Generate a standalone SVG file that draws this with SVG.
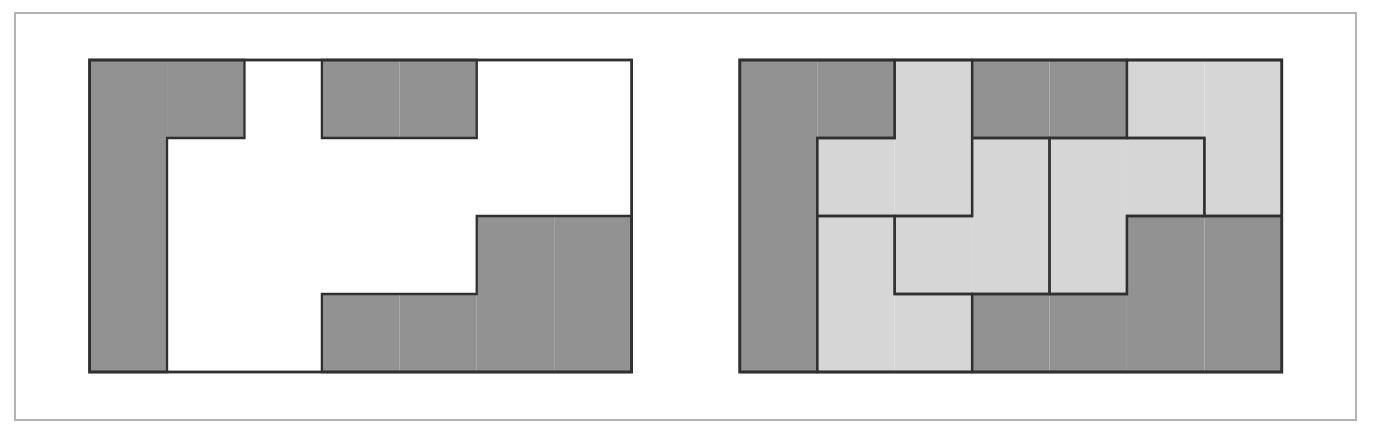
<svg xmlns="http://www.w3.org/2000/svg" width="1378" height="438" viewBox="0 0 1378 438">
<style>
.d{fill:#929292}
.l{fill:#d6d6d6}
.w{fill:#ffffff}
.b{fill:none;stroke:#303030;stroke-width:2.3;stroke-linejoin:miter;stroke-linecap:square}
.o{fill:none;stroke:#303030;stroke-width:2.8}
</style>
<rect x="0" y="0" width="1378" height="438" fill="#ffffff"/>
<rect x="15" y="13" width="1341" height="407" fill="#ffffff" stroke="#b3b3b3" stroke-width="2"/>

<g id="left-grid" transform="translate(89.6,60)">
  <g id="left-piece-1">
    <rect class="d" x="0" y="0" width="77.43" height="78"/>
    <rect class="d" x="77.43" y="0" width="77.43" height="78"/>
    <rect class="d" x="0" y="78" width="77.43" height="78"/>
    <rect class="d" x="0" y="156" width="77.43" height="78"/>
    <rect class="d" x="0" y="234" width="77.43" height="78"/>
    <path class="b" d="M0,0 H154.86 V78 H77.43 V312 H0 Z"/>
  </g>
  <g id="left-piece-2">
    <rect class="d" x="232.29" y="0" width="77.42" height="78"/>
    <rect class="d" x="309.71" y="0" width="77.43" height="78"/>
    <path class="b" d="M232.29,0 H387.14 V78 H232.29 Z"/>
  </g>
  <g id="left-piece-3">
    <rect class="d" x="387.14" y="156" width="77.43" height="78"/>
    <rect class="d" x="464.57" y="156" width="77.43" height="78"/>
    <rect class="d" x="232.29" y="234" width="77.42" height="78"/>
    <rect class="d" x="309.71" y="234" width="77.43" height="78"/>
    <rect class="d" x="387.14" y="234" width="77.43" height="78"/>
    <rect class="d" x="464.57" y="234" width="77.43" height="78"/>
    <path class="b" d="M387.14,156 H542 V312 H232.29 V234 H387.14 Z"/>
  </g>
  <rect id="left-frame" class="o" x="0" y="0" width="542" height="312"/>
</g>

<g id="right-grid" transform="translate(739.8,60)">
  <g id="right-piece-1">
    <rect class="d" x="0" y="0" width="77.43" height="78"/>
    <rect class="d" x="77.43" y="0" width="77.43" height="78"/>
    <rect class="d" x="0" y="78" width="77.43" height="78"/>
    <rect class="d" x="0" y="156" width="77.43" height="78"/>
    <rect class="d" x="0" y="234" width="77.43" height="78"/>
  </g>
  <g id="right-piece-2">
    <rect class="l" x="154.86" y="0" width="77.43" height="78"/>
    <rect class="l" x="77.43" y="78" width="77.43" height="78"/>
    <rect class="l" x="154.86" y="78" width="77.43" height="78"/>
  </g>
  <g id="right-piece-3">
    <rect class="d" x="232.29" y="0" width="77.42" height="78"/>
    <rect class="d" x="309.71" y="0" width="77.43" height="78"/>
  </g>
  <g id="right-piece-4">
    <rect class="l" x="387.14" y="0" width="77.43" height="78"/>
    <rect class="l" x="464.57" y="0" width="77.43" height="78"/>
    <rect class="l" x="464.57" y="78" width="77.43" height="78"/>
  </g>
  <g id="right-piece-5">
    <rect class="l" x="232.29" y="78" width="77.42" height="78"/>
    <rect class="l" x="154.86" y="156" width="77.43" height="78"/>
    <rect class="l" x="232.29" y="156" width="77.42" height="78"/>
  </g>
  <g id="right-piece-6">
    <rect class="l" x="309.71" y="78" width="77.43" height="78"/>
    <rect class="l" x="387.14" y="78" width="77.43" height="78"/>
    <rect class="l" x="309.71" y="156" width="77.43" height="78"/>
  </g>
  <g id="right-piece-7">
    <rect class="l" x="77.43" y="156" width="77.43" height="78"/>
    <rect class="l" x="77.43" y="234" width="77.43" height="78"/>
    <rect class="l" x="154.86" y="234" width="77.43" height="78"/>
  </g>
  <g id="right-piece-8">
    <rect class="d" x="387.14" y="156" width="77.43" height="78"/>
    <rect class="d" x="464.57" y="156" width="77.43" height="78"/>
    <rect class="d" x="232.29" y="234" width="77.42" height="78"/>
    <rect class="d" x="309.71" y="234" width="77.43" height="78"/>
    <rect class="d" x="387.14" y="234" width="77.43" height="78"/>
    <rect class="d" x="464.57" y="234" width="77.43" height="78"/>
  </g>
  <g id="right-outlines">
    <path class="b" d="M0,0 H154.86 V78 H77.43 V312 H0 Z"/>
    <path class="b" d="M154.86,0 H232.29 V156 H77.43 V78 H154.86 Z"/>
    <path class="b" d="M232.29,0 H387.14 V78 H232.29 Z"/>
    <path class="b" d="M387.14,0 H542 V156 H464.57 V78 H387.14 Z"/>
    <path class="b" d="M232.29,78 H309.71 V234 H154.86 V156 H232.29 Z"/>
    <path class="b" d="M309.71,78 H464.57 V156 H387.14 V234 H309.71 Z"/>
    <path class="b" d="M77.43,156 H154.86 V234 H232.29 V312 H77.43 Z"/>
    <path class="b" d="M387.14,156 H542 V312 H232.29 V234 H387.14 Z"/>
  </g>
  <rect id="right-frame" class="o" x="0" y="0" width="542" height="312"/>
</g>
</svg>
